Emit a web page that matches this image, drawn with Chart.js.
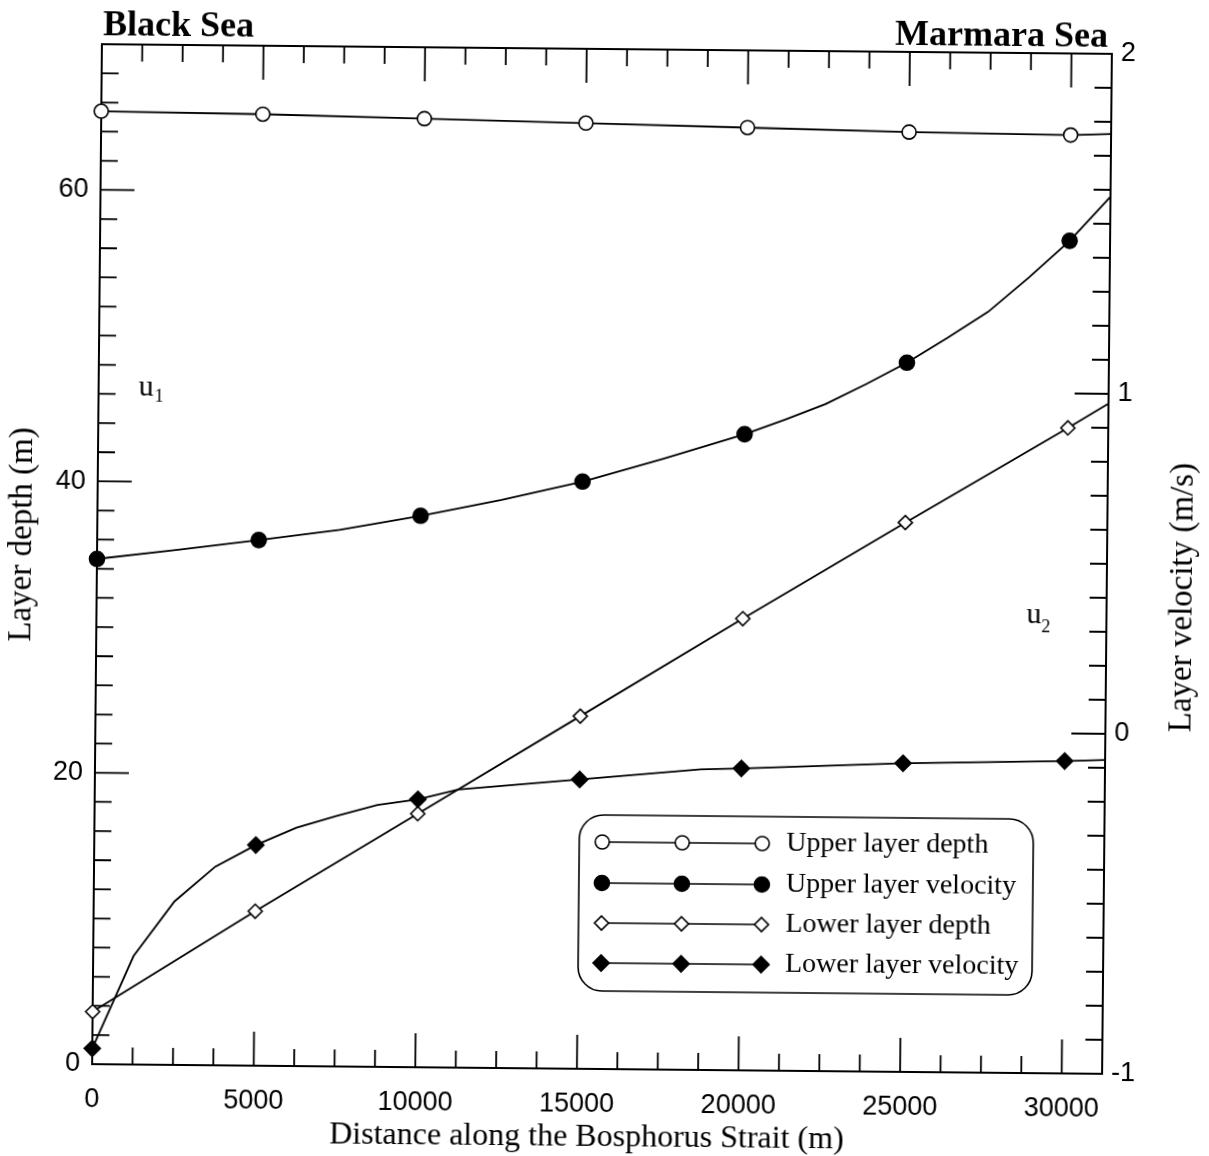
<!DOCTYPE html>
<html>
<head>
<meta charset="utf-8">
<script src="https://cdn.jsdelivr.net/npm/chart.js@4.4.1/dist/chart.umd.min.js"></script>
<style>
  html, body { margin: 0; padding: 0; background: #fff; }
  /* the scanned figure is tilted a little */
  #chart { display: block; transform: rotate(0.55deg); transform-origin: 602px 559px; }
</style>
</head>
<body>
<canvas id="chart" width="1209" height="1156"></canvas>
<script>
// axis ticks
const distanceTicks = [0, 5000, 10000, 15000, 20000, 25000, 30000];
const depthTicks = [0, 20, 40, 60];
const velocityTicks = [-1, 0, 1, 2];

// Upper layer depth (m)
const upperDepthX = [0, 5000, 10000, 15000, 20000, 25000, 30000, 31250];
const upperDepth = [65.4, 65.3, 65.1, 64.9, 64.7, 64.5, 64.4, 64.5];

// Upper layer velocity (m/s)
const upperVelX = [0, 2500, 5000, 7500, 10000, 12500, 15000, 17500, 20000, 21250, 22500, 23750, 25000, 26250, 27500, 28750, 30000, 31250];
const upperVel = [0.486, 0.515, 0.546, 0.578, 0.622, 0.671, 0.727, 0.797, 0.871, 0.915, 0.962, 1.022, 1.086, 1.16, 1.238, 1.34, 1.449, 1.58];

// Lower layer depth (m)
const lowerDepthX = [0, 5000, 10000, 15000, 20000, 25000, 30000, 31250];
const lowerDepth = [3.6, 10.6, 17.4, 24.2, 31.0, 37.7, 44.3, 46.0];

// Lower layer velocity (m/s)
const lowerVelX = [0, 1250, 2500, 3750, 5000, 6250, 7500, 8750, 10000, 11250, 15000, 18750, 20000, 25000, 30000, 31250];
const lowerVel = [-0.954, -0.681, -0.519, -0.416, -0.351, -0.299, -0.263, -0.23, -0.212, -0.182, -0.149, -0.116, -0.112, -0.092, -0.081, -0.077];

const SERIF = "'Liberation Serif', 'Times New Roman', serif";
const SANS = "'Liberation Sans', Arial, sans-serif";

function points(xs, ys) {
  return xs.map((x, i) => ({ x: x, y: ys[i] }));
}

function marks(xs, r) {
  return xs.map(x => (x % 5000 === 0 ? r : 0));
}

function series(label, xs, ys, axis, style, fill, r) {
  return {
    label: label,
    data: points(xs, ys),
    yAxisID: axis,
    borderColor: '#000',
    borderWidth: 1.8,
    tension: 0,
    pointStyle: style,
    pointRadius: marks(xs, r),
    pointBackgroundColor: fill,
    pointBorderColor: '#000',
    pointBorderWidth: 1.6,
    clip: false,
  };
}

const datasets = [
  series('Upper layer depth', upperDepthX, upperDepth, 'depth', 'circle', '#fff', 7),
  series('Upper layer velocity', upperVelX, upperVel, 'velocity', 'circle', '#000', 7.5),
  series('Lower layer depth', lowerDepthX, lowerDepth, 'depth', 'rectRot', '#fff', 7),
  series('Lower layer velocity', lowerVelX, lowerVel, 'velocity', 'rectRot', '#000', 8),
];

function tickSet(ctx, scale, from, to, step, majorEvery, draw) {
  const n = Math.round((to - from) / step);
  for (let i = 0; i <= n; i++) {
    const v = from + i * step;
    const major = i % majorEvery === 0;
    draw(scale.getPixelForValue(v), major ? 34 : 17);
  }
}

const frame = {
  id: 'frame',
  beforeDatasetsDraw(chart) {
    const { ctx, chartArea: a, scales } = chart;
    ctx.save();
    ctx.strokeStyle = '#000';
    ctx.lineWidth = 2;
    ctx.strokeRect(a.left, a.top, a.right - a.left, a.bottom - a.top);
    ctx.lineWidth = 1.8;
    ctx.beginPath();
    tickSet(ctx, scales.x, 0, 31250, 1250, 4, (p, len) => {
      ctx.moveTo(p, a.bottom); ctx.lineTo(p, a.bottom - len);
      ctx.moveTo(p, a.top); ctx.lineTo(p, a.top + len);
    });
    tickSet(ctx, scales.depth, 0, 70, 2, 10, (p, len) => {
      ctx.moveTo(a.left, p); ctx.lineTo(a.left + len, p);
    });
    tickSet(ctx, scales.velocity, -1, 2, 0.1, 10, (p, len) => {
      ctx.moveTo(a.right, p); ctx.lineTo(a.right - len, p);
    });
    ctx.stroke();
    ctx.restore();
  },
  afterDraw(chart) {
    const { ctx, chartArea: a, scales } = chart;
    ctx.save();
    ctx.fillStyle = '#000';

    // tick labels
    ctx.font = '27px ' + SANS;
    ctx.textBaseline = 'middle';
    ctx.textAlign = 'center';
    distanceTicks.forEach(v => ctx.fillText(String(v), scales.x.getPixelForValue(v), 1105));
    ctx.textAlign = 'right';
    depthTicks.forEach(v => ctx.fillText(String(v), a.left - 12, scales.depth.getPixelForValue(v)));
    ctx.textAlign = 'left';
    velocityTicks.forEach(v => ctx.fillText(String(v), a.right + 9, scales.velocity.getPixelForValue(v)));

    // sea names
    ctx.font = 'bold 36px ' + SERIF;
    ctx.textBaseline = 'alphabetic';
    ctx.textAlign = 'left';
    ctx.fillText('Black Sea', 98, 40);
    ctx.textAlign = 'right';
    ctx.fillText('Marmara Sea', 1103, 42);

    // axis titles
    ctx.font = '32px ' + SERIF;
    ctx.textAlign = 'center';
    ctx.textBaseline = 'middle';
    ctx.fillText('Distance along the Bosphorus Strait (m)', 592, 1138);
    ctx.font = '33px ' + SERIF;
    ctx.save();
    ctx.translate(22, 540);
    ctx.rotate(-Math.PI / 2);
    ctx.fillText('Layer depth (m)', 0, 0);
    ctx.restore();
    ctx.save();
    ctx.translate(1183, 592);
    ctx.rotate(-Math.PI / 2);
    ctx.fillText('Layer velocity (m/s)', 0, 0);
    ctx.restore();

    // u1 / u2 labels
    ctx.textAlign = 'left';
    ctx.textBaseline = 'alphabetic';
    ctx.font = '30px ' + SERIF;
    ctx.fillText('u', 137, 400);
    ctx.fillText('u', 1027, 619);
    ctx.font = '18px ' + SERIF;
    ctx.fillText('1', 153, 406);
    ctx.fillText('2', 1042, 628);

    // legend
    ctx.lineWidth = 1.6;
    ctx.strokeStyle = '#000';
    ctx.beginPath();
    ctx.roundRect(582, 815, 454, 176, 24);
    ctx.stroke();
    const rowY = [842, 883, 923, 963];
    const sampleX = [605, 685, 765];
    ctx.font = '28px ' + SERIF;
    ctx.textBaseline = 'middle';
    datasets.forEach((ds, i) => {
      const y = rowY[i];
      ctx.beginPath();
      ctx.moveTo(sampleX[0], y);
      ctx.lineTo(sampleX[2], y);
      ctx.lineWidth = 1.6;
      ctx.stroke();
      const r = Math.max(...ds.pointRadius);
      sampleX.forEach(x => {
        ctx.beginPath();
        if (ds.pointStyle === 'circle') {
          ctx.arc(x, y, r, 0, Math.PI * 2);
        } else {
          ctx.moveTo(x, y - r); ctx.lineTo(x + r, y); ctx.lineTo(x, y + r); ctx.lineTo(x - r, y); ctx.closePath();
        }
        ctx.fillStyle = ds.pointBackgroundColor;
        ctx.fill();
        ctx.stroke();
      });
      ctx.fillStyle = '#000';
      ctx.fillText(ds.label, 789, y);
    });
    ctx.restore();
  }
};

new Chart(document.getElementById('chart').getContext('2d'), {
  type: 'line',
  data: { datasets: datasets },
  options: {
    responsive: false,
    animation: false,
    devicePixelRatio: 1,
    layout: { padding: { left: 97, right: 102, top: 49, bottom: 87 } },
    plugins: { legend: { display: false }, tooltip: { enabled: false } },
    scales: {
      x: { type: 'linear', min: 0, max: 31250, display: false },
      depth: { type: 'linear', position: 'left', min: 0, max: 70, display: false },
      velocity: { type: 'linear', position: 'right', min: -1, max: 2, display: false },
    },
  },
  plugins: [frame],
});
</script>
</body>
</html>
